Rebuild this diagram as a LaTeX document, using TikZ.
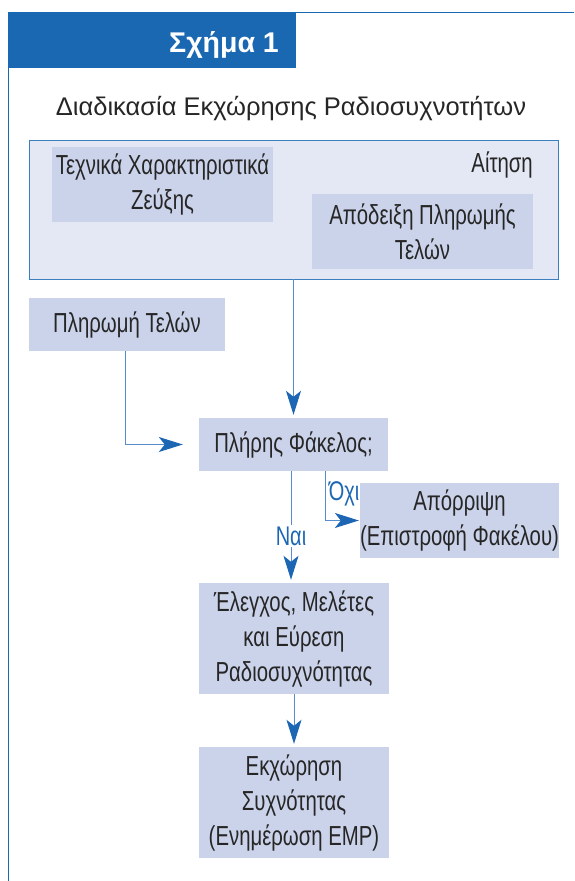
\documentclass[tikz,border=0pt]{standalone}
\usepackage{fontspec}
\setmainfont{Liberation Sans}
\newfontfamily\narrowfont[FakeStretch=0.74]{Liberation Sans}
\usepackage{tikz}
\usetikzlibrary{arrows.meta, positioning}
\definecolor{titleblue}{RGB}{26,104,178}
\definecolor{lineblue}{RGB}{88,140,204}
\definecolor{tipblue}{RGB}{28,102,180}
\definecolor{paleblue}{RGB}{228,232,244}
\definecolor{boxblue}{RGB}{203,211,234}
\definecolor{textgray}{RGB}{38,38,38}
\tikzset{
  stepbox/.style={fill=boxblue, inner sep=0pt, align=center, text=textgray,
    font=\narrowfont\fontsize{27.5}{35}\selectfont},
  flow/.style={draw=lineblue, line width=1pt,
    -{Stealth[length=24pt, width=15pt, inset=6pt, color=tipblue]}},
  answer/.style={text=tipblue, inner sep=1pt,
    font=\narrowfont\fontsize{27}{30}\selectfont}
}

\begin{document}
\begin{tikzpicture}[x=1pt, y=-1pt]
  \useasboundingbox (0,0) rectangle (574,881);
  % Heading and frame
  \fill[titleblue] (8,12) rectangle (296,68);
  \draw[titleblue, line width=1pt] (296,12.5) -- (574,12.5);
  \draw[titleblue, line width=1pt] (8.5,68) -- (8.5,881);
  \node[anchor=base east, text=white, inner sep=0pt,
    font=\bfseries\fontsize{28.5}{32}\selectfont] (fig) at (279,52) {Σχήμα 1};
  \node[anchor=base, text=textgray, inner sep=0pt,
    font=\fontsize{25.5}{30}\selectfont] (subtitle) at (291,115)
    {Διαδικασία Εκχώρησης Ραδιοσυχνοτήτων};
  % Application
  \node[draw=titleblue!85, fill=paleblue, line width=0.9pt, inner sep=0pt,
    minimum width=529pt, minimum height=139pt] (request) at (293.5,209.5) {};
  \node[anchor=base east, inner sep=0pt, text=textgray,
    font=\narrowfont\fontsize{27.5}{35}\selectfont] (reqlabel) at (533,172) {Αίτηση};
  \node[stepbox, minimum width=221pt, minimum height=75pt] (specs)
    at (162.5,184.5) {Τεχνικά Χαρακτηριστικά\\Ζεύξης};
  \node[stepbox, minimum width=221pt, minimum height=75pt] (receipt)
    at (422.5,231.5) {Απόδειξη Πληρωμής\\Τελών};
  % Steps
  \node[stepbox, minimum width=196pt, minimum height=53pt] (payment)
    at (127,324.5) {Πληρωμή Τελών};
  \node[stepbox, minimum width=189pt, minimum height=53pt] (folder)
    at (293.5,444.5) {Πλήρης Φάκελος;};
  \node[stepbox, minimum width=197pt, minimum height=75pt] (reject)
    at (459.5,520.5) {Απόρριψη\\(Επιστροφή Φακέλου)};
  \node[stepbox, minimum width=190pt, minimum height=111pt] (check)
    at (294,638.5) {Έλεγχος, Μελέτες\\και Εύρεση\\Ραδιοσυχνότητας};
  \node[stepbox, minimum width=190pt, minimum height=111pt] (grant)
    at (294,802.5) {Εκχώρηση\\Συχνότητας\\(Ενημέρωση ΕΜΡ)};
  % Answers
  \node[answer] (yes) at (291,536) {Ναι};
  \node[answer] (no) at (344,494) {Όχι};
  % Connectors
  \draw[flow, shorten >=3pt] (request.south -| folder.north) -- (folder.north);
  \draw[flow, shorten >=16pt] ([xshift=-2pt]payment.south) |- (folder.west);
  \draw[draw=lineblue, line width=1pt] (folder.south -| yes.north) -- (yes.north);
  \draw[flow, shorten >=3pt] (yes.south) -- (yes.south |- check.north);
  \draw[flow, shorten >=1pt] ([xshift=31.5pt]folder.south) |- (reject.west);
  \draw[flow, shorten >=3pt] (check.south) -- (grant.north);
\end{tikzpicture}
\end{document}
